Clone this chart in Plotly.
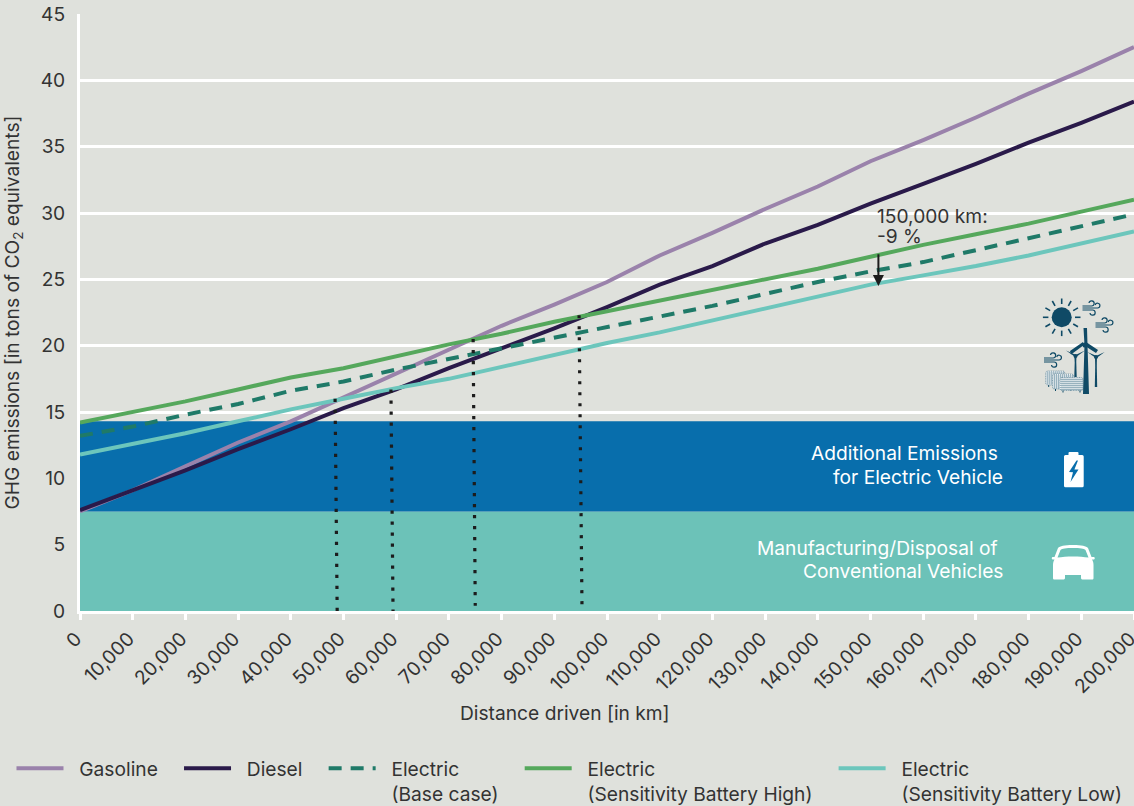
import base64
import plotly.graph_objects as go

distance_km = [0, 10000, 20000, 30000, 40000, 50000, 60000, 70000, 80000, 90000, 100000,
               110000, 120000, 130000, 140000, 150000, 160000, 170000, 180000, 190000, 200000]
gasoline = [7.5, 9.1, 10.9, 12.7, 14.3, 16.1, 17.9, 19.7, 21.5, 23.1, 24.8,
            26.8, 28.5, 30.3, 32.0, 33.9, 35.5, 37.2, 39.0, 40.7, 42.5]
diesel = [7.6, 9.1, 10.6, 12.2, 13.7, 15.3, 16.7, 18.3, 19.8, 21.3, 22.9,
          24.6, 26.0, 27.7, 29.1, 30.7, 32.2, 33.7, 35.3, 36.8, 38.4]
electric_base = [13.2, 13.9, 14.8, 15.6, 16.6, 17.3, 18.2, 19.0, 19.8, 20.6, 21.4,
                 22.2, 23.0, 23.9, 24.8, 25.6, 26.3, 27.2, 28.1, 29.0, 29.9]
electric_high = [14.2, 15.0, 15.8, 16.7, 17.6, 18.3, 19.2, 20.1, 20.9, 21.8, 22.6,
                 23.4, 24.2, 25.0, 25.8, 26.7, 27.6, 28.4, 29.2, 30.1, 31.0]
electric_low = [11.8, 12.6, 13.4, 14.3, 15.2, 16.0, 16.8, 17.5, 18.4, 19.3, 20.2,
                21.0, 21.9, 22.8, 23.7, 24.6, 25.3, 26.0, 26.8, 27.7, 28.6]
band_x = [0, 200000]
band_conventional = [7.5, 7.5]
band_additional = [14.3, 14.3]
breakeven_x = [[48400, 48800], [59000, 59400], [74600, 75000], [94700, 95250]]
breakeven_y = [[16.0, 0], [16.7, 0], [20.5, 0.4], [22.3, 0.4]]
x_ticks = list(range(0, 200001, 10000))
x_tick_labels = [f"{v:,}" for v in x_ticks]
y_ticks = list(range(0, 46, 5))

FONT = "Inter"
FS = 19.2
TXT = "#333333"
NB = "\u00a0"
L, R = NB * 2, NB * 3

fig = go.Figure()
fig.add_trace(go.Scatter(x=band_x, y=band_conventional, mode="lines", fill="tozeroy", fillcolor="#6cc2b8",
                         line=dict(width=0), showlegend=False, hoverinfo="skip"))
fig.add_trace(go.Scatter(x=band_x, y=band_additional, mode="lines", fill="tonexty", fillcolor="#086eac",
                         line=dict(width=0), showlegend=False, hoverinfo="skip"))
for name, ys, col, dash in [
    (f"{L}Gasoline{R}", gasoline, "#9a82ab", "solid"),
    (f"{L}Diesel{R}", diesel, "#2a1a4a", "solid"),
    (f"{L}Electric<br>{L}(Base case){R}", electric_base, "#1f7a68", "13px,9px"),
    (f"{L}Electric<br>{L}(Sensitivity Battery High){R}", electric_high, "#55a85c", "solid"),
    (f"{L}Electric<br>{L}(Sensitivity Battery Low)", electric_low, "#6cc6bc", "solid"),
]:
    fig.add_trace(go.Scatter(x=distance_km, y=ys, mode="lines", name=name, cliponaxis=False,
                             line=dict(color=col, width=4, dash=dash)))
for xs, ys in zip(breakeven_x, breakeven_y):
    fig.add_trace(go.Scatter(x=xs, y=ys, mode="lines", showlegend=False, hoverinfo="skip",
                             line=dict(color="#1c1c1c", width=3.2, dash="3.2px,7.8px")))


def icons_svg():
    dark = "#0f4a66"
    rays = "".join(
        f'<line x1="61.7" y1="24" x2="61.7" y2="18.5" transform="rotate({a} 61.7 37.3)" stroke="{dark}" stroke-width="1.6"/>'
        for a in range(0, 360, 30))

    def wind(x, y):
        return (f'<g fill="none" stroke="{dark}" stroke-width="1.2">'
                f'<path d="M{x} {y}h9a2.6 2.6 0 1 0-2.5-3"/><path d="M{x} {y+2}h15a2.4 2.4 0 1 0-2.3-3"/>'
                f'<path d="M{x} {y+4}h10a2.6 2.6 0 1 1-2.5 3"/></g>')

    def panel(x, y, w, h):
        lines = "".join(f'<line x1="{x+i}" y1="{y}" x2="{x+i}" y2="{y+h}"/>' for i in range(2, int(w), 2))
        lines += "".join(f'<line x1="{x}" y1="{y+i}" x2="{x+w}" y2="{y+i}"/>' for i in range(2, int(h), 2))
        return (f'<rect x="{x}" y="{y}" width="{w}" height="{h}" rx="2" fill="#ffffff" stroke="#5f8496" stroke-width=".7" stroke-dasharray="1 .7"/>'
                f'<g stroke="#6f93a5" stroke-width=".6">{lines}</g>'
                f'<path d="M{x+3} {y+h}v2M{x+w-3} {y+h}v2" stroke="{dark}" stroke-width="1"/>')

    def turbine(x, top, bottom, hub, blade, tw):
        b = "".join(
            f'<path d="M{x-1} {hub}L{x} {hub-blade}L{x+1.2} {hub}Z" transform="rotate({a} {x} {hub})" fill="{dark}"/>'
            for a in (-60, 60, 180))
        return (f'<path d="M{x-tw/2} {hub}L{x+tw/2} {hub}L{x+tw} {bottom}L{x-tw} {bottom}Z" fill="{dark}"/>'
                + b + f'<circle cx="{x}" cy="{hub}" r="2" fill="{dark}"/>')

    return f'''<svg xmlns="http://www.w3.org/2000/svg" width="134" height="330" viewBox="0 0 134 330">
<circle cx="61.7" cy="37.3" r="10" fill="{dark}"/>{rays}
{wind(82.5,26)}{wind(95.5,43)}{wind(44,78)}
{panel(45.7,91,19,14)}{panel(52.5,94,21,15)}{panel(60,97.5,23,13)}
{turbine(75.5,64,97,76,11,1.2)}{turbine(96,66,107,77,10,1.2)}
<path d="M83.5 48h3.5L87.5 65L89 114h-6L84.5 65Z" fill="{dark}"/>
<path d="M84 65L71 74.5L70 71L83 62ZM86 62L98 70L96 73L85 66Z" fill="{dark}"/><circle cx="85" cy="65" r="2.6" fill="{dark}"/>
<path d="M69.5 172h8a1 1 0 0 1 1 1v2h3.7a1.5 1.5 0 0 1 1.5 1.5v29.3a1.5 1.5 0 0 1-1.5 1.5h-16.7a1.5 1.5 0 0 1-1.5-1.5v-29.3a1.5 1.5 0 0 1 1.5-1.5h3v-2a1 1 0 0 1 1-1Z" fill="#fff"/>
<path d="M76.5 180.5L69 192L73 192.2L70.5 202L78.5 189.5L74.4 189.5L78 180.5Z" fill="#086eac"/>
<path d="M73 265C64 265 60 266 58 268L54.500 277H52.500C51.500 277 51.500 279.500 52.500 279.500H54.500C53.500 281 53 283 53 285V298C53 299 53.500 299.500 54.500 299.500H63C64 299.500 65 299 65 298V295H81V298C81 299 82 299.500 83 299.500H92C93 299.500 93.500 299 93.500 298V285C93.500 283 93 281 92 279.500H94C95 279.500 95 277 94 277H91.500L88 268C86 266 82 265 73 265Z" fill="#fff"/>
<path d="M73 268C66 268 62 268.500 60.500 270L57.500 277.500C66 276 80 276 88.500 277.500L85.500 270C84 268.500 80 268 73 268Z" fill="#6cc2b8"/>
</svg>'''


svg_uri = "data:image/svg+xml;base64," + base64.b64encode(icons_svg().encode()).decode()


def px_note(text, right_px, y_px, color="#ffffff"):
    return dict(x=(right_px - 80) / 1054, y=(611 - y_px) / 597, xref="paper", yref="paper", text=text,
                showarrow=False, xanchor="right", yanchor="middle", font=dict(family=FONT, size=FS, color=color))


common_axis = dict(showline=True, linecolor="#ffffff", linewidth=3, zeroline=False,
                   tickfont=dict(family=FONT, size=FS, color=TXT))
fig.update_layout(
    width=1134, height=806, autosize=False,
    margin=dict(l=80, r=0, t=14, b=195, autoexpand=False),
    paper_bgcolor="#dfe1dc", plot_bgcolor="#dfe1dc",
    font=dict(family=FONT, size=FS, color=TXT),
    xaxis=dict(range=[0, 200000], tickvals=x_ticks, ticktext=x_tick_labels, tickangle=-45,
               showgrid=False, ticks="outside", ticklen=6, tickwidth=3, tickcolor="#ffffff",
               ticklabeloverflow="allow", ticklabelshift=-4, **common_axis),
    yaxis=dict(range=[0, 45], tickvals=y_ticks, showgrid=True, gridcolor="#ffffff", gridwidth=2.5,
               ticklabelstandoff=8,
               title=dict(text="GHG emissions [in tons of CO<sub>2</sub> equivalents]",
                          font=dict(family=FONT, size=FS, color=TXT), standoff=18),
               **common_axis),
    legend=dict(orientation="h", x=-0.065, xref="paper", xanchor="left", y=-0.2316, yanchor="top",
                itemwidth=47, valign="top", bgcolor="rgba(0,0,0,0)", traceorder="normal",
                font=dict(family=FONT, size=FS, color=TXT), itemclick=False, itemdoubleclick=False),
    images=[dict(source=svg_uri, xref="paper", yref="paper", x=(1000 - 80) / 1054, y=(611 - 280) / 597,
                 sizex=134 / 1054, sizey=330 / 597, sizing="stretch", xanchor="left", yanchor="top", layer="above")],
    annotations=[
        dict(x=(565 - 80) / 1054, y=(611 - 713) / 597, xref="paper", yref="paper", text="Distance driven [in km]",
             showarrow=False, xanchor="center", yanchor="middle", font=dict(family=FONT, size=FS, color=TXT)),
        dict(x=150800, y=29.75, xref="x", yref="y", text="150,000 km:", showarrow=False, align="left",
             xanchor="left", yanchor="middle", font=dict(family=FONT, size=FS, color=TXT)),
        dict(x=150800, y=28.3, xref="x", yref="y", text="-9 %", showarrow=False, align="left",
             xanchor="left", yanchor="middle", font=dict(family=FONT, size=FS, color=TXT)),
        dict(x=151500, y=24.5, ax=151500, ay=27.0, xref="x", yref="y", axref="x", ayref="y", text="", showarrow=True,
             arrowhead=2, arrowsize=1.1, arrowwidth=2, arrowcolor="#1c1c1c"),
        px_note("Additional Emissions", 1000, 453),
        px_note("for Electric Vehicle", 1005, 477),
        px_note("Manufacturing/Disposal of", 1000, 548),
        px_note("Conventional Vehicles", 1005, 571),
    ],
)
fig.write_html("out.html", config=dict(displayModeBar=False),
               post_script="document.body.style.margin='0';document.body.style.background='#dfe1dc';")
